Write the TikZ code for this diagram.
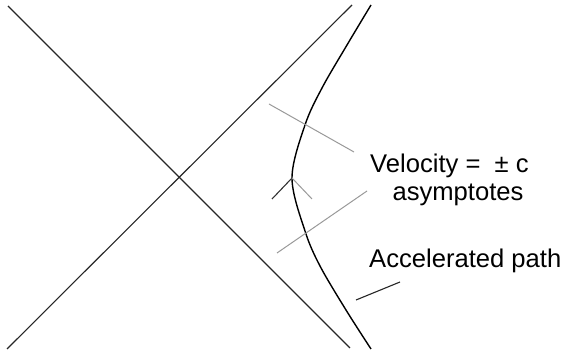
\documentclass[tikz,border=0pt]{standalone}
\usepackage{fontspec}
\setmainfont{Liberation Sans}
\begin{document}
\begin{tikzpicture}[x=1pt,y=-1pt,
  axisline/.style={line width=1.1pt,draw=black!85},
  worldline/.style={line width=1.4pt,draw=black},
  asymline/.style={line width=1pt,draw=black!40},
  lbl/.style={inner sep=0pt,font=\fontsize{25.6}{28}\selectfont,text=black}]
\useasboundingbox (0,0) rectangle (563,352);
% light-cone lines
\coordinate (l1a) at (8,6);
\coordinate (l1b) at (350,348);
\coordinate (l2a) at (7,349);
\coordinate (l2b) at (352,5);
\draw[axisline] (l1a) -- (l1b);
\draw[axisline] (l2a) -- (l2b);
% accelerated path
\draw[worldline] plot[smooth,tension=0.55] coordinates {(371,5) (347,45) (322,88) (305,125) (292,178) (305,231) (320,266) (346,310) (371,349)};
\coordinate (tip) at (292,178);
\coordinate (armL) at (272,199);
\coordinate (armR) at (312,199);
\draw[line width=1.1pt,draw=black!80] (tip) -- (armL);
\draw[asymline] (tip) -- (armR);
% tangent (asymptote) lines
\coordinate (g1a) at (269,104);
\coordinate (g1b) at (354,152);
\coordinate (g2a) at (277,253);
\coordinate (g2b) at (367,191);
\draw[asymline] (g1a) -- (g1b);
\draw[asymline] (g2a) -- (g2b);
% labels
\node[lbl,anchor=base west] (vel) at (370,173) {Velocity =\ \ ± c};
\node[lbl,anchor=base] (asy) at (458,201) {asymptotes};
\node[lbl,anchor=base west] (acc) at (369,268) {Accelerated path};
\coordinate (lead) at (356,300);
\coordinate (leadend) at (400,282);
\draw[line width=1.1pt,draw=black!85] (lead) -- (leadend);
\end{tikzpicture}
\end{document}
